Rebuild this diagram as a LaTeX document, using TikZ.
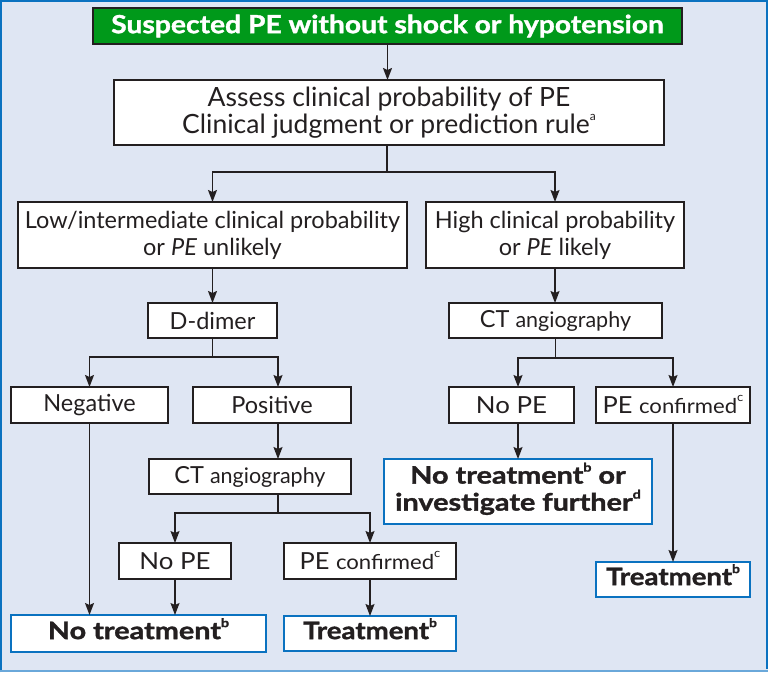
\documentclass[tikz,border=0pt]{standalone}
\usepackage{fontspec}
\setmainfont{Lato}
\newfontfamily\heavyfont{Lato}[FakeBold=1.3]
\usetikzlibrary{arrows.meta,calc}
\definecolor{bgblue}{HTML}{DFE6F3}
\definecolor{frameblue}{HTML}{0A72C0}
\definecolor{framelight}{HTML}{6AA8DA}
\definecolor{boxgreen}{HTML}{00991A}
\definecolor{ink}{HTML}{231F20}
\newcommand{\supr}[1]{\smash{\raisebox{0.5em}{\fontsize{12}{12}\selectfont #1}}}
\newcommand{\wide}[2]{\scalebox{#1}[1]{\begin{tabular}{@{}c@{}}#2\end{tabular}}}
\begin{document}
\begin{tikzpicture}[x=1pt,y=-1pt,
  every node/.style={inner sep=0pt, outer sep=0pt, align=center, text=ink},
  box/.style={draw=ink, fill=white, line width=1.5pt, font=\fontsize{23.5}{27}\selectfont},
  resbox/.style={draw=frameblue, fill=white, line width=1.5pt, font=\fontsize{24}{28}\selectfont\heavyfont\bfseries},
  greenbox/.style={draw=ink, fill=boxgreen, line width=1.5pt, text=white, font=\fontsize{25}{28}\selectfont\heavyfont\bfseries},
  arr/.style={draw=ink, line width=1.4pt, -{Stealth[length=12pt,width=9pt,inset=2pt]}},
  ln/.style={draw=ink, line width=1.4pt}]
% frame
\fill[bgblue] (0,0) rectangle (768,672);
\useasboundingbox (0,0) rectangle (768,672);
\draw[frameblue, line width=2pt] (1,672) -- (1,1) -- (767,1) -- (767,669);
\draw[framelight, line width=2.5pt] (0,671) -- (768,671);
% nodes
\node[greenbox, minimum width=589, minimum height=36] (green) at (387.5,26) {\scalebox{1.13}[1]{Suspected PE without shock or hypotension}};
\node[box, minimum width=550, minimum height=65, font=\fontsize{26.5}{27}\selectfont] (assess) at (389,112.5) {Assess clinical probability of PE\\Clinical judgment or prediction rule\supr{a}};
\node[box, minimum width=389, minimum height=66] (low) at (212.5,235) {Low/intermediate clinical probability\\or \textit{PE} unlikely};
\node[box, minimum width=258, minimum height=66] (high) at (555,235) {High clinical probability\\or \textit{PE} likely};
\node[box, minimum width=129, minimum height=35] (dd) at (212.5,320.5) {D-dimer};
\node[box, minimum width=213, minimum height=35] (ctr) at (555.5,320.5) {CT {\fontsize{21.5}{22}\selectfont angiography}};
\node[box, minimum width=157, minimum height=36] (neg) at (89.5,405) {Negative};
\node[box, minimum width=158, minimum height=36] (pos) at (272,405) {Positive};
\node[box, minimum width=125, minimum height=36] (nopeR) at (511.5,405) {\scalebox{1.1}[1]{No PE}};
\node[box, minimum width=154, minimum height=36] (pecR) at (673,405) {\scalebox{1.08}[1]{PE {\fontsize{20.5}{22}\selectfont confirmed}\supr{c}}};
\node[box, minimum width=202, minimum height=35] (ctl) at (250,476.5) {CT {\fontsize{21.5}{22}\selectfont angiography}};
\node[resbox, minimum width=268, minimum height=65] (further) at (518,491.5) {\wide{1.2}{No treatment\supr{b} or\\[-1pt]investigate further\supr{d}}};
\node[box, minimum width=112, minimum height=36] (nopeL) at (175,561) {\scalebox{1.1}[1]{No PE}};
\node[box, minimum width=172, minimum height=36] (pecL) at (370,561) {\scalebox{1.08}[1]{PE {\fontsize{20.5}{22}\selectfont confirmed}\supr{c}}};
\node[resbox, minimum width=154, minimum height=35] (treatR) at (673,579.5) {\wide{1.15}{Treatment\supr{b}}};
\node[resbox, minimum width=255, minimum height=37] (notreat) at (138.5,633.5) {\wide{1.2}{No treatment\supr{b}}};
\node[resbox, minimum width=172, minimum height=35] (treatL) at (370,633.5) {\wide{1.15}{Treatment\supr{b}}};
% split points
\coordinate (s1) at (387,172);
\coordinate (s2) at (212.5,357);
\coordinate (s3) at (278,513);
\coordinate (s4) at (555.5,358);
% connectors
\draw[arr] (green.south) -- (green.south |- assess.north);
\draw[ln] (s1 |- assess.south) -- (s1);
\draw[arr] (s1) -| (low.north);
\draw[arr] (s1) -| (high.north);
\draw[arr] (low.south) -- (dd.north);
\draw[arr] (high.south) -- (high.south |- ctr.north);
\draw[ln] (dd.south) -- (s2);
\draw[arr] (s2) -| (neg.north);
\draw[arr] (s2) -| (s3 |- pos.north);
\draw[arr] (neg.south) -- (neg.south |- notreat.north);
\draw[arr] (s3 |- pos.south) -- (s3 |- ctl.north);
\draw[ln] (s3 |- ctl.south) -- (s3);
\draw[arr] (s3) -| (nopeL.north);
\draw[arr] (s3) -| (pecL.north);
\draw[arr] (nopeL.south) -- (nopeL.south |- notreat.north);
\draw[arr] (pecL.south) -- (treatL.north);
\draw[ln] (ctr.south -| s4) -- (s4);
\draw[arr] (s4) -| (further.north |- nopeR.north);
\draw[arr] (s4) -| (pecR.north);
\draw[arr] (further.north |- nopeR.south) -- (further.north);
\draw[arr] (pecR.south) -- (treatR.north);
\end{tikzpicture}
\end{document}
